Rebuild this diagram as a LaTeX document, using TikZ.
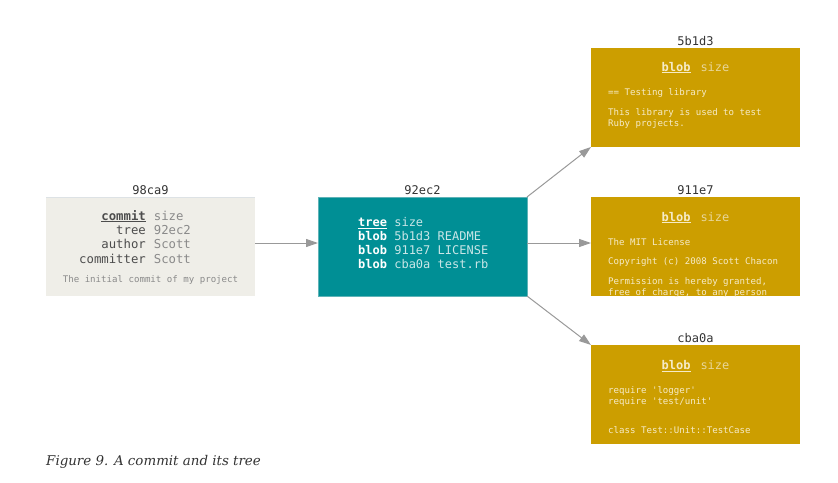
\documentclass[tikz,border=0pt]{standalone}
\usepackage{fontspec}
\setmainfont{DejaVu Serif}
\setmonofont{DejaVu Sans Mono}
\usetikzlibrary{arrows.meta,positioning}

\definecolor{commitfill}{HTML}{EFEEE8}
\definecolor{commitedge}{HTML}{DDE2E5}
\definecolor{commitkey}{HTML}{4D4D4D}
\definecolor{commitval}{HTML}{8A8A8A}
\definecolor{treefill}{HTML}{008F95}
\definecolor{treeedge}{HTML}{5FB3B7}
\definecolor{treeval}{HTML}{C9E6E7}
\definecolor{blobfill}{HTML}{CC9E00}
\definecolor{blobtext}{HTML}{F6EBC8}
\definecolor{blobsize}{HTML}{E8D699}
\definecolor{hashgray}{HTML}{333333}
\definecolor{arrowgray}{HTML}{999999}
\definecolor{captiongray}{HTML}{333333}

\tikzset{
  objbox/.style={rectangle, minimum width=209pt, minimum height=99pt, inner sep=0pt, outer sep=0pt, anchor=north west},
  hash/.style={font=\ttfamily\fontsize{12}{14}\selectfont, text=hashgray, inner sep=0pt},
  bloblabel/.style={font=\ttfamily\fontsize{12}{14}\selectfont, text=blobtext, inner sep=0pt, anchor=base},
  blobline/.style={font=\ttfamily\fontsize{9.1}{10.7}\selectfont, text=blobtext, inner sep=0pt, anchor=base west},
  link/.style={draw=arrowgray, line width=1pt, -{Triangle[length=12pt,width=8pt]}},
}

\begin{document}
\begin{tikzpicture}[x=1pt,y=-1pt]
\useasboundingbox (0,0) rectangle (838,482);

% the four objects
\node[objbox, fill=commitfill] (commit) at (46,197) {};
\draw[commitedge, line width=0.8pt] (commit.north west) -- (commit.north east);
\node[objbox, fill=treefill, draw=treeedge, line width=0.5pt] (tree) at (318,197) {};
\node[objbox, fill=blobfill] (readme) at (591,48) {};
\node[objbox, fill=blobfill] (license) at (591,197) {};
\node[objbox, fill=blobfill] (testrb) at (591,345) {};

% hashes
\node[hash, above=2.5pt of commit] (commithash) {98ca9};
\node[hash, above=2.5pt of tree] (treehash) {92ec2};
\node[hash, above=2.5pt of readme] (readmehash) {5b1d3};
\node[hash, above=2.5pt of license] (licensehash) {911e7};
\node[hash, above=2.5pt of testrb] (testrbhash) {cba0a};

% commit
\node[anchor=base west, inner sep=0pt, font=\ttfamily\fontsize{12.3}{14.4}\selectfont] (commitfields) at (79,220)
{\begin{tabular}[t]{@{}r@{\hspace{8pt}}l@{}}
\textcolor{commitkey}{\underline{\textbf{commit}}} & \textcolor{commitval}{size}\\
\textcolor{commitkey}{tree} & \textcolor{commitval}{92ec2}\\
\textcolor{commitkey}{author} & \textcolor{commitval}{Scott}\\
\textcolor{commitkey}{committer} & \textcolor{commitval}{Scott}
\end{tabular}};
\node[anchor=base, inner sep=0pt, text=commitval, font=\ttfamily\fontsize{9.1}{11}\selectfont] (commitmsg) at (150.5,282) {The initial commit of my project};

% tree
\node[anchor=base west, inner sep=0pt, font=\ttfamily\fontsize{12}{14}\selectfont] (treefields) at (358,226.5)
{\begin{tabular}[t]{@{}l@{ }l@{}}
\textcolor{white}{\underline{\textbf{tree}}} & \textcolor{treeval}{size}\\
\textcolor{white}{\textbf{blob}} & \textcolor{treeval}{5b1d3 README}\\
\textcolor{white}{\textbf{blob}} & \textcolor{treeval}{911e7 LICENSE}\\
\textcolor{white}{\textbf{blob}} & \textcolor{treeval}{cba0a test.rb}
\end{tabular}};

% blob 5b1d3
\node[bloblabel] (readmehead) at (695.5,71) {\underline{\textbf{blob}}\hspace{10pt}\textcolor{blobsize}{size}};
\node[blobline] (readme1) at (608,95) {== Testing library};
\node[blobline] (readme2) at (608,115.5) {This library is used to test};
\node[blobline] (readme3) at (608,126.2) {Ruby projects.};

% blob 911e7
\node[bloblabel] (licensehead) at (695.5,221) {\underline{\textbf{blob}}\hspace{10pt}\textcolor{blobsize}{size}};
\begin{scope}
\clip (license.north west) rectangle (license.south east);
\node[blobline] (license1) at (608,245) {The MIT License};
\node[blobline] (license2) at (608,264.5) {Copyright (c) 2008 Scott Chacon};
\node[blobline] (license3) at (608,284.5) {Permission is hereby granted,};
\node[blobline] (license4) at (608,295.2) {free of charge, to any person};
\end{scope}

% blob cba0a
\node[bloblabel] (testrbhead) at (695.5,369.5) {\underline{\textbf{blob}}\hspace{10pt}\textcolor{blobsize}{size}};
\node[blobline] (testrb1) at (608,393.5) {require 'logger'};
\node[blobline] (testrb2) at (608,404.2) {require 'test/unit'};
\node[blobline] (testrb3) at (608,433) {class Test::Unit::TestCase};

% links
\draw[link] ([yshift=3.5pt]commit.east) -- ([yshift=3.5pt]tree.west);
\draw[link] ([yshift=3.5pt]tree.east) -- ([yshift=3.5pt]license.west);
\draw[link] (tree.north east) -- (readme.south west);
\draw[link] (tree.south east) -- (testrb.north west);

\node[anchor=base west, inner sep=0pt, text=captiongray, font=\itshape\fontsize{13.4}{16}\selectfont] (caption) at (46,465) {Figure 9. A commit and its tree};
\end{tikzpicture}
\end{document}
